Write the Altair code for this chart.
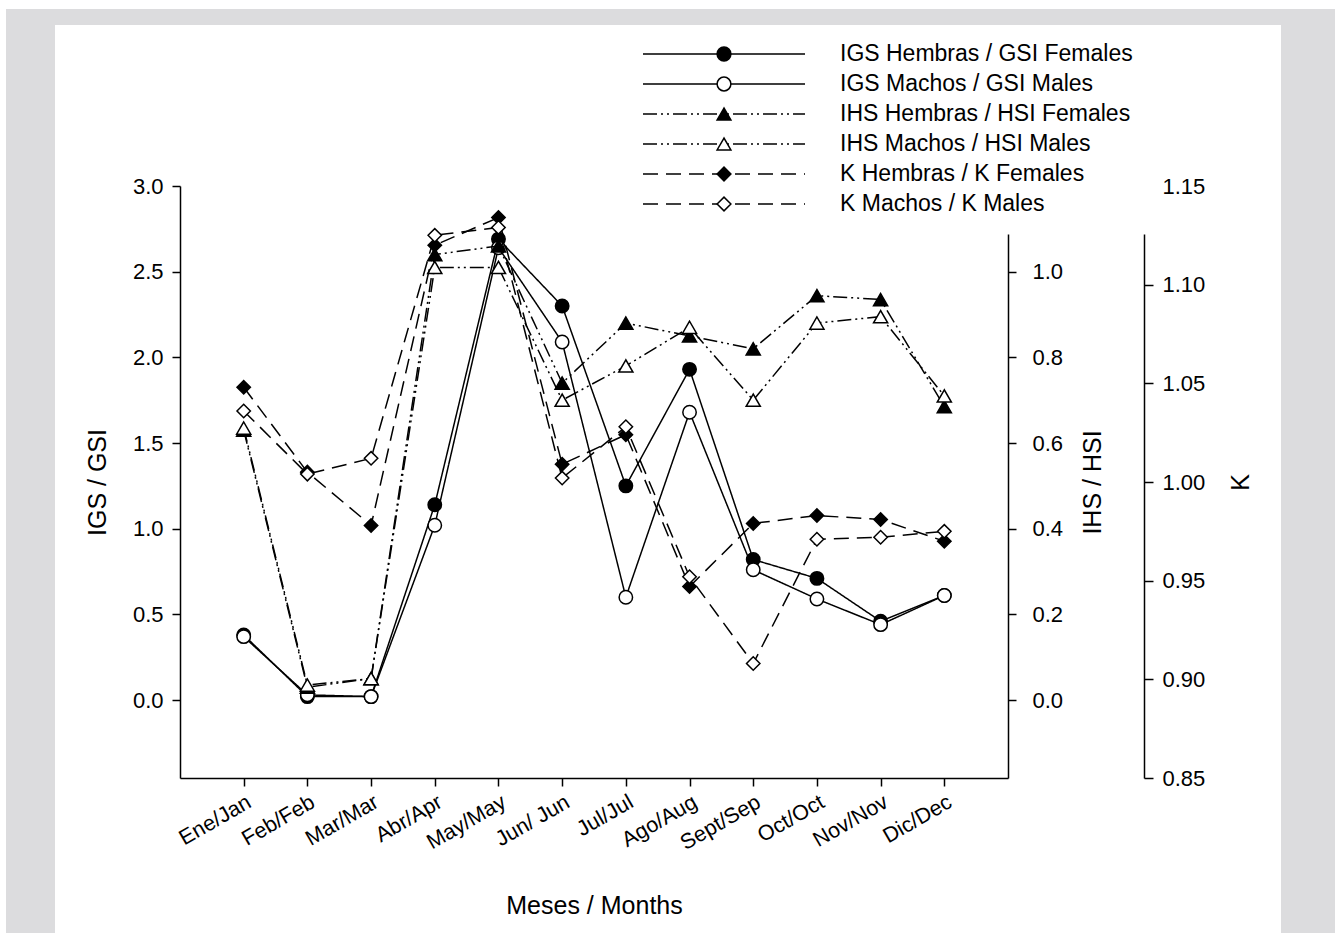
import altair as alt
import pandas as pd

months = ["Ene/Jan", "Feb/Feb", "Mar/Mar", "Abr/Apr", "May/May", "Jun/ Jun",
          "Jul/Jul", "Ago/Aug", "Sept/Sep", "Oct/Oct", "Nov/Nov", "Dic/Dec"]

gsi_f = [0.38, 0.02, 0.02, 1.14, 2.69, 2.30, 1.25, 1.93, 0.82, 0.71, 0.46, 0.61]
gsi_m = [0.37, 0.03, 0.02, 1.02, 2.64, 2.09, 0.60, 1.68, 0.76, 0.59, 0.44, 0.61]
ihs_f = [0.63, 0.03, 0.05, 1.04, 1.06, 0.74, 0.88, 0.85, 0.82, 0.944, 0.935, 0.685]
ihs_m = [0.635, 0.035, 0.05, 1.01, 1.01, 0.70, 0.78, 0.87, 0.70, 0.88, 0.895, 0.71]
k_f = [1.048, 1.005, 0.978, 1.120, 1.134, 1.009, 1.024, 0.947, 0.979, 0.983, 0.981, 0.970]
k_m = [1.036, 1.004, 1.012, 1.125, 1.129, 1.002, 1.028, 0.952, 0.908, 0.971, 0.972, 0.975]

legend_labels = ["IGS Hembras / GSI Females", "IGS Machos / GSI Males",
                 "IHS Hembras / HSI Females", "IHS Machos / HSI Males",
                 "K Hembras / K Females", "K Machos / K Males"]

gsi_ticks = [0.0, 0.5, 1.0, 1.5, 2.0, 2.5, 3.0]
ihs_ticks = [0.0, 0.2, 0.4, 0.6, 0.8, 1.0]
k_ticks = [0.85, 0.90, 0.95, 1.00, 1.05, 1.10, 1.15]

FONT = "Liberation Sans"
W, H = 828, 592
SOLID = [1, 0]
DASHDOT = [14, 4, 2, 4, 2, 4]
DASHED = [15, 8]

df = pd.DataFrame({"month": months, "gsi_f": gsi_f, "gsi_m": gsi_m,
                   "ihs_f": ihs_f, "ihs_m": ihs_m, "k_f": k_f, "k_m": k_m})

x_axis = alt.Axis(labelAngle=330, labelFontSize=21.5, labelPadding=5, tickSize=8,
                  title="Meses / Months", titleFontSize=25, titlePadding=40,
                  titleFontWeight="normal", zindex=1)
x_enc = alt.X("month:N", sort=months, scale=alt.Scale(type="point", padding=1),
              axis=x_axis)

gsi_axis = alt.Axis(orient="left", values=gsi_ticks, format=".1f", tickSize=8,
                    labelPadding=9, labelFontSize=22, title="IGS / GSI",
                    titleFontSize=25, titlePadding=22, titleFontWeight="normal",
                    zindex=1)
ihs_axis = alt.Axis(orient="right", values=ihs_ticks, format=".1f", tickSize=8,
                    labelPadding=16, labelFontSize=22, title="IHS / HSI",
                    titleAngle=270, titleBaseline="top", titleFontSize=25,
                    titlePadding=18, titleFontWeight="normal",
                    domainDash=[544, 60], zindex=1)
k_axis = alt.Axis(orient="right", offset=136, values=k_ticks, format=".2f",
                  tickSize=9, labelPadding=9, labelFontSize=22, title="K",
                  titleAngle=270, titleBaseline="top", titleFontSize=25,
                  titlePadding=24, titleFontWeight="normal", domainDash=[544, 60],
                  tickOpacity={"condition": {"test": "datum.value > 1.14", "value": 0}, "value": 1},
                  zindex=1)

gsi_scale = alt.Scale(domain=[-0.455, 3.0], nice=False, zero=False)
ihs_scale = alt.Scale(domain=[-0.182, 1.2], nice=False, zero=False)
k_scale = alt.Scale(domain=[0.85, 1.15], nice=False, zero=False)


def series(field, scale, axis, dash, shape, fill, size):
    base = alt.Chart(df).encode(x=x_enc, y=alt.Y(f"{field}:Q", scale=scale, axis=axis))
    line = base.mark_line(color="black", strokeWidth=1.5, strokeDash=dash)
    pts = base.mark_point(shape=shape, filled=True, fill=fill, stroke="black",
                          strokeWidth=1.5, size=size, opacity=1)
    return alt.layer(line, pts)


gsi = alt.layer(series("gsi_f", gsi_scale, gsi_axis, SOLID, "circle", "black", 180),
                series("gsi_m", gsi_scale, gsi_axis, SOLID, "circle", "white", 180))
ihs = alt.layer(series("ihs_f", ihs_scale, ihs_axis, DASHDOT, "triangle-up", "black", 200),
                series("ihs_m", ihs_scale, ihs_axis, DASHDOT, "triangle-up", "white", 200))
kk = alt.layer(series("k_f", k_scale, k_axis, DASHED, "diamond", "black", 180),
               series("k_m", k_scale, k_axis, DASHED, "diamond", "white", 180))

# legend
leg = pd.DataFrame({"label": legend_labels, "row": list(range(6))})
keys = legend_labels
dash_scale = alt.Scale(domain=keys, range=[SOLID, SOLID, DASHDOT, DASHDOT, DASHED, DASHED])
shape_scale = alt.Scale(domain=keys, range=["circle", "circle", "triangle-up", "triangle-up", "diamond", "diamond"])
fill_scale = alt.Scale(domain=keys, range=["black", "white", "black", "white", "black", "white"])
leg_y = alt.Y("row:O", scale=alt.Scale(type="point", range=[-132, 18], padding=0), axis=None)
leg_base = alt.Chart(leg).encode(y=leg_y)
leg_rule = leg_base.mark_rule(color="black", strokeWidth=1.5).encode(
    x=alt.value(463), x2=alt.value(625),
    strokeDash=alt.StrokeDash("label:N", scale=dash_scale, legend=None))
leg_pts = leg_base.mark_point(filled=True, stroke="black", strokeWidth=1.5, size=190, opacity=1).encode(
    x=alt.value(544),
    shape=alt.Shape("label:N", scale=shape_scale, legend=None),
    fill=alt.Fill("label:N", scale=fill_scale, legend=None))
leg_text = leg_base.mark_text(align="left", baseline="middle", font=FONT, fontSize=23,
                              color="black").encode(x=alt.value(660), text="label:N")
legend = alt.layer(leg_rule, leg_pts, leg_text)

one = pd.DataFrame({"a": [0]})
bg_gray = alt.Chart(one).mark_rect(color="#dcdcde").encode(
    x=alt.value(-174), x2=alt.value(1155), y=alt.value(-177), y2=alt.value(747))
bg_white = alt.Chart(one).mark_rect(color="white").encode(
    x=alt.value(-125), x2=alt.value(1101), y=alt.value(-161), y2=alt.value(747))

chart = alt.layer(bg_gray, bg_white, gsi, ihs, kk, legend).resolve_scale(
    y="independent"
).properties(
    width=W, height=H,
    autosize=alt.AutoSizeParams(type="none"),
    padding={"left": 180, "top": 186, "right": 327, "bottom": 155},
    background="white",
).configure_view(stroke=None).configure_axis(
    labelFont=FONT, titleFont=FONT, labelColor="black", titleColor="black",
    domainColor="black", tickColor="black", domainWidth=1.5, tickWidth=1.5,
    grid=False,
)

chart.save("out.html", embed_options={"renderer": "svg", "actions": False})
